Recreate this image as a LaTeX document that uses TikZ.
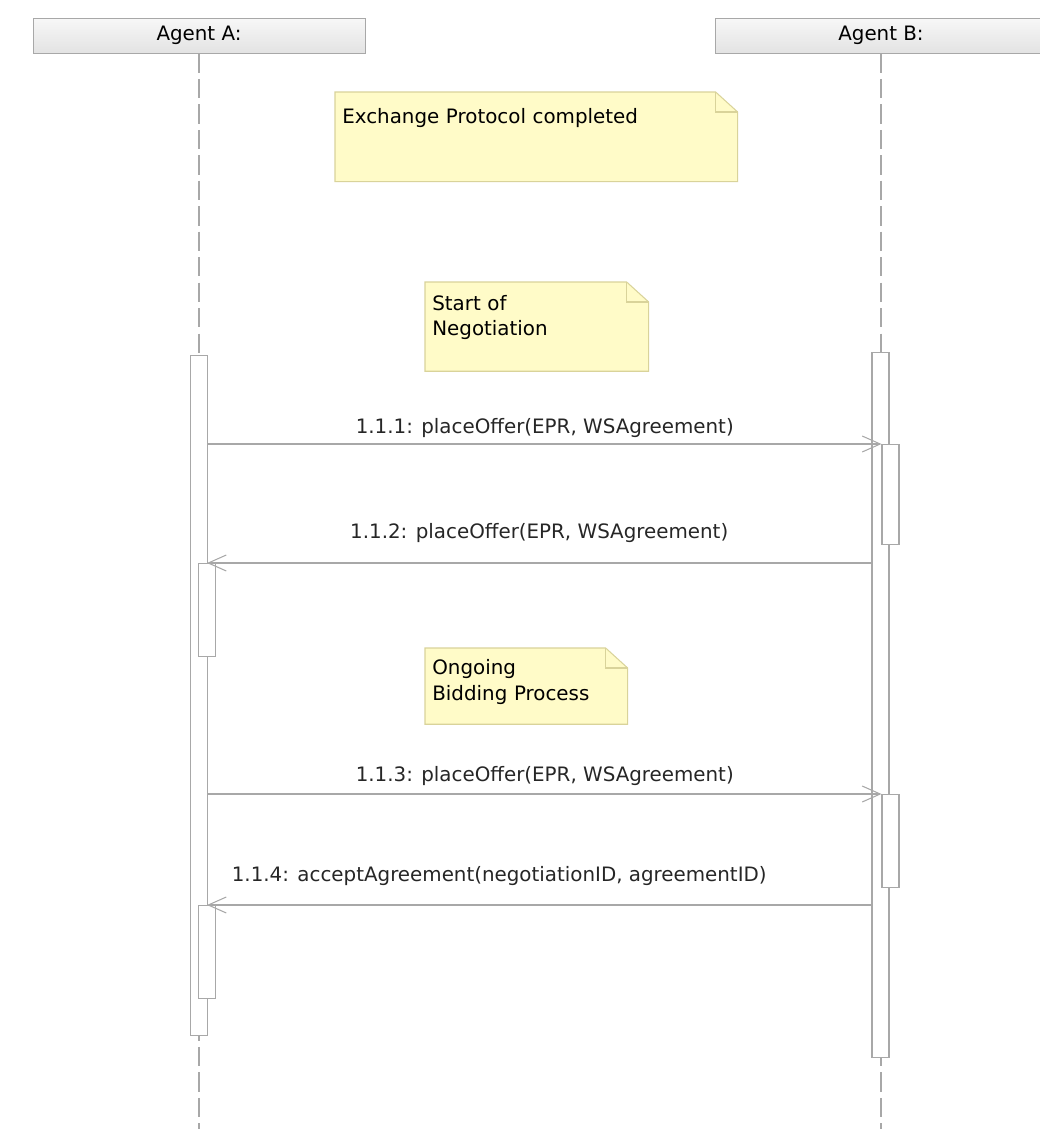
\documentclass[tikz,border=0pt]{standalone}
\usepackage{fontspec}
\setmainfont{DejaVu Sans}
\usetikzlibrary{arrows.meta,backgrounds}

\definecolor{notefill}{HTML}{FFFBC8}
\definecolor{noteedge}{HTML}{D9D39A}
\definecolor{umlline}{HTML}{A8A8A8}

% folded-corner outline behind a note node
\newcommand{\notefold}[1]{%
  \filldraw[noteline] (#1.north west) -- ([xshift=-0.44cm]#1.north east)
    -- ([yshift=-0.40cm]#1.north east) -- (#1.south east) -- (#1.south west) -- cycle;
  \draw[noteline,fill=none] ([xshift=-0.44cm]#1.north east)
    |- ([yshift=-0.40cm]#1.north east);
}
% extra depth below the last line of a note
\newcommand{\notedepth}[1]{\rule[-#1]{0pt}{#1}}

\begin{document}
\begin{tikzpicture}[
  x=0.02cm, y=-0.02cm,
  font=\fontsize{11.3}{14.5}\selectfont,
  header/.style={
    draw=umlline,
    top color=gray!6,
    bottom color=gray!22,
    minimum width=6.64cm,
    minimum height=0.7cm,
    inner sep=0pt
  },
  lifeline/.style={draw=umlline, line width=0.6pt, dash pattern=on 11pt off 3.5pt},
  actbox/.style={
    draw=umlline,
    fill=white,
    line width=0.6pt,
    anchor=north,
    minimum width=0.34cm,
    inner sep=0pt
  },
  note/.style={
    anchor=north west,
    align=left,
    inner xsep=0.14cm
  },
  noteline/.style={draw=noteedge, fill=notefill, line width=0.6pt},
  msg/.style={-{Straight Barb[length=3.6mm,width=3.2mm]}, draw=umlline, line width=0.6pt},
  msglabel/.style={text=black!85}
]
  \useasboundingbox (0,0) rectangle (1040,1129);
  \clip (0,0) rectangle (1040,1129);

  % participants and lifelines
  \node[header] (agentA) at (199,35.5) {Agent A:};
  \node[header] (agentB) at (881,35.5) {Agent B:};
  \coordinate (endA) at (199,1129);
  \coordinate (endB) at (881,1129);
  \draw[lifeline] (agentA.south) -- (endA);
  \draw[lifeline] (agentB.south) -- (endB);

  % activation bars
  \node[actbox, minimum height=13.6cm] (actA1) at (199,355) {};
  \node[actbox, minimum height=14.1cm] (actB1) at (880.5,352) {};
  \node[actbox, minimum height=2.0cm]  (actB2) at (890.5,444) {};
  \node[actbox, minimum height=1.86cm] (actA2) at (207,563) {};
  \node[actbox, minimum height=1.86cm] (actB3) at (890.5,794) {};
  \node[actbox, minimum height=1.86cm] (actA3) at (207,905) {};

  % notes
  \node[note, text width=7.76cm, inner ysep=9.1pt] (note1) at (335,92)
    {Exchange Protocol completed\notedepth{23.8pt}};
  \node[note, text width=4.18cm, inner ysep=7.35pt] (note2) at (425,282)
    {Start of\\Negotiation\notedepth{12.6pt}};
  \node[note, text width=3.76cm, inner ysep=6.45pt] (note3) at (425,648)
    {Ongoing\\Bidding Process\notedepth{7pt}};
  \begin{scope}[on background layer]
    \notefold{note1}
    \notefold{note2}
    \notefold{note3}
  \end{scope}

  % messages
  \draw[msg] (actA1.east |- actB2.north) -- node[msglabel, above] (m111)
    {1.1.1: placeOffer(EPR, WSAgreement)} (actB2.north west);
  \draw[msg] (actB1.west |- actA2.north) -- node[msglabel, above=0.28cm] (m112)
    {1.1.2: placeOffer(EPR, WSAgreement)} (actA2.north);
  \draw[msg] (actA1.east |- actB3.north) -- node[msglabel, above=0.04cm] (m113)
    {1.1.3: placeOffer(EPR, WSAgreement)} (actB3.north west);
  \draw[msg] (actB1.west |- actA3.north) -- node[msglabel, above=0.26cm, xshift=-0.8cm] (m114)
    {1.1.4: acceptAgreement(negotiationID, agreementID)} (actA3.north);
\end{tikzpicture}
\end{document}
